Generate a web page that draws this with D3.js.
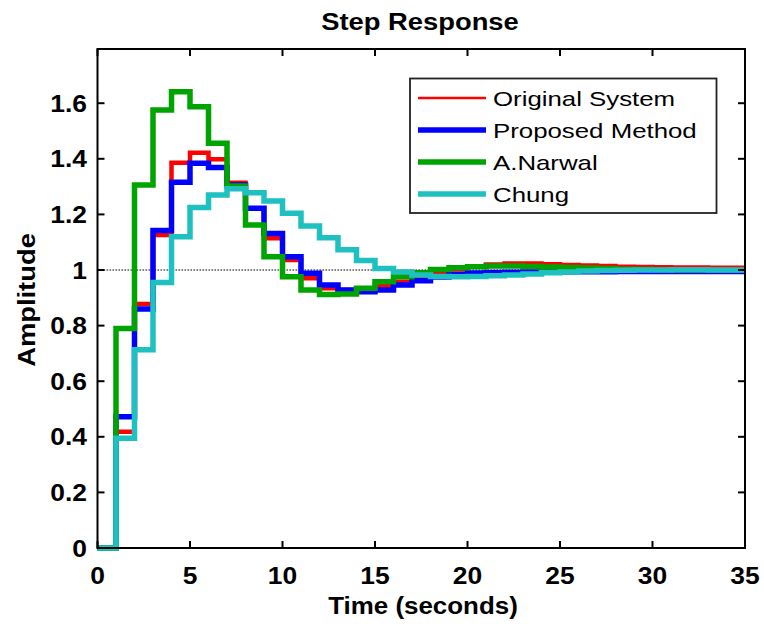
<!DOCTYPE html>
<html>
<head>
<meta charset="utf-8">
<script src="https://cdn.jsdelivr.net/npm/d3@7"></script>
<style>
  html, body { margin: 0; padding: 0; background: #fff; }
  svg { display: block; }
  text { font-family: "Liberation Sans", Arial, sans-serif; fill: #000; }
</style>
</head>
<body>
<svg id="chart" width="764" height="627"></svg>
<script>
// Discrete step responses, sampled every 1 s from t = 0 to t = 35
const time = d3.range(0, 36);

const originalSystem = [0, 0.418, 0.878, 1.126, 1.386, 1.422, 1.398, 1.314, 1.222, 1.114,
  1.036, 0.970, 0.934, 0.928, 0.930, 0.942, 0.958, 0.975, 0.990, 1.002,
  1.012, 1.020, 1.023, 1.023, 1.021, 1.018, 1.016, 1.014, 1.012, 1.011,
  1.010, 1.009, 1.009, 1.008, 1.008, 1.008];

const proposedMethod = [0, 0.472, 0.860, 1.142, 1.316, 1.384, 1.369, 1.306, 1.222, 1.131,
  1.048, 0.988, 0.946, 0.928, 0.922, 0.928, 0.946, 0.961, 0.975, 0.984,
  0.989, 0.991, 0.992, 0.993, 0.993, 0.994, 0.994, 0.994, 0.995, 0.995,
  0.995, 0.995, 0.995, 0.995, 0.995, 0.995];

const aNarwal = [0, 0.790, 1.306, 1.576, 1.641, 1.587, 1.456, 1.302, 1.162, 1.048,
  0.976, 0.928, 0.912, 0.914, 0.934, 0.958, 0.976, 0.990, 1.002, 1.008,
  1.012, 1.014, 1.014, 1.013, 1.011, 1.009, 1.007, 1.005, 1.003, 1.002,
  1.001, 1.000, 1.000, 1.000, 1.000, 1.000];

const chung = [0, 0.395, 0.713, 0.955, 1.120, 1.225, 1.270, 1.292, 1.278, 1.248,
  1.204, 1.158, 1.116, 1.073, 1.034, 1.005, 0.993, 0.982, 0.977, 0.976,
  0.977, 0.979, 0.982, 0.986, 0.990, 0.993, 0.996, 0.998, 0.999, 1.000,
  1.000, 1.001, 1.001, 1.000, 1.000, 1.000];

const seriesNames = ["Original System", "Proposed Method", "A.Narwal", "Chung"];
const seriesValues = [originalSystem, proposedMethod, aNarwal, chung];
const seriesColors = ["#ff0000", "#0000ff", "#00a400", "#1fc0c0"];
const seriesWidths = [4.5, 5.5, 5.5, 5.5];
const legendWidths = [2.7, 5.5, 5.5, 5.5];

const xTicks = [0, 5, 10, 15, 20, 25, 30, 35];
const yTicks = [0, 0.2, 0.4, 0.6, 0.8, 1, 1.2, 1.4, 1.6];

const svg = d3.select("#chart");
const plot = { left: 97.5, right: 745, top: 49, bottom: 548 };

const x = d3.scaleLinear().domain([0, 35]).range([plot.left, plot.right]);
const y = d3.scaleLinear().domain([0, 1.795]).range([plot.bottom, plot.top]);

// Text helper: the typeface is drawn slightly wide
function label(g, str, px, py, opts) {
  const sx = opts.sx || 1.1;
  const t = g.append("text")
    .attr("transform", `translate(${px},${py}) rotate(${opts.rotate || 0}) scale(${sx},1)`)
    .attr("text-anchor", opts.anchor || "middle")
    .style("font-size", (opts.size || 24) + "px")
    .style("font-weight", opts.weight || "bold")
    .text(str);
  return t;
}

// Reference line at the final value
svg.append("line")
  .attr("x1", x(0)).attr("x2", x(35))
  .attr("y1", y(1)).attr("y2", y(1))
  .attr("stroke", "#555").attr("stroke-width", 1.6)
  .attr("stroke-dasharray", "1.6,1.4");

// Step traces
const line = d3.line()
  .x((d, i) => x(time[i]))
  .y(d => y(d))
  .curve(d3.curveStepAfter);

seriesValues.forEach((vals, k) => {
  svg.append("path")
    .datum(vals)
    .attr("fill", "none")
    .attr("stroke", seriesColors[k])
    .attr("stroke-width", seriesWidths[k])
    .attr("stroke-linejoin", "miter")
    .attr("d", line);
});

// Axes box with inward ticks on all sides
const axisG = svg.append("g");
axisG.append("rect")
  .attr("x", plot.left).attr("y", plot.top)
  .attr("width", plot.right - plot.left).attr("height", plot.bottom - plot.top)
  .attr("fill", "none").attr("stroke", "#000").attr("stroke-width", 2);

const tickLen = 7;
xTicks.forEach(v => {
  axisG.append("line").attr("x1", x(v)).attr("x2", x(v))
    .attr("y1", plot.bottom).attr("y2", plot.bottom - tickLen)
    .attr("stroke", "#000").attr("stroke-width", 2);
  axisG.append("line").attr("x1", x(v)).attr("x2", x(v))
    .attr("y1", plot.top).attr("y2", plot.top + tickLen)
    .attr("stroke", "#000").attr("stroke-width", 2);
  label(axisG, String(v), x(v), 584, { size: 24 });
});
yTicks.forEach(v => {
  axisG.append("line").attr("x1", plot.left).attr("x2", plot.left + tickLen)
    .attr("y1", y(v)).attr("y2", y(v))
    .attr("stroke", "#000").attr("stroke-width", 2);
  axisG.append("line").attr("x1", plot.right).attr("x2", plot.right - tickLen)
    .attr("y1", y(v)).attr("y2", y(v))
    .attr("stroke", "#000").attr("stroke-width", 2);
  label(axisG, String(v), 87, y(v) + 8.5, { size: 24, anchor: "end" });
});

// Titles
label(svg, "Step Response", 420, 30, { size: 24, sx: 1.14 });
label(svg, "Time (seconds)", 423, 614, { size: 24, sx: 1.08 });
label(svg, "Amplitude", 35, 300, { size: 24, rotate: -90, sx: 1.14 });

// Legend
const lg = svg.append("g");
lg.append("rect")
  .attr("x", 410).attr("y", 78.5).attr("width", 306.5).attr("height", 134.5)
  .attr("fill", "#fff").attr("stroke", "#222").attr("stroke-width", 1.8);
seriesNames.forEach((name, k) => {
  const ry = 98 + k * 32;
  lg.append("line").attr("x1", 418).attr("x2", 486)
    .attr("y1", ry).attr("y2", ry)
    .attr("stroke", seriesColors[k]).attr("stroke-width", legendWidths[k]);
  label(lg, name, 493, ry + 8, { size: 21, weight: "normal", anchor: "start", sx: 1.23 });
});
</script>
</body>
</html>
